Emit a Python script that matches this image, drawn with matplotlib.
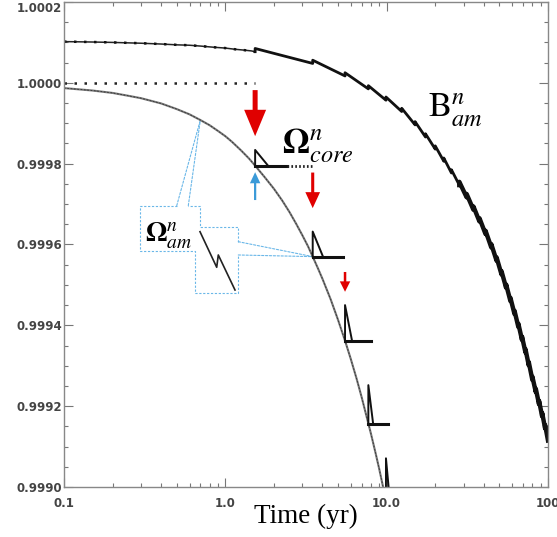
import numpy as np
import matplotlib.pyplot as plt
from matplotlib.ticker import FixedLocator, FixedFormatter, MultipleLocator, LogLocator, NullFormatter
from matplotlib.patches import FancyArrowPatch, ConnectionPatch, ArrowStyle

plt.rcParams['mathtext.fontset'] = 'stix'

# B_am^n before the first glitch
B_early_t = [0.1, 0.15, 0.2, 0.3, 0.4, 0.5, 0.6, 0.7, 0.85, 1.0, 1.15, 1.3, 1.45]
B_early_v = [1.000102, 1.000101, 1.000100, 1.000098, 1.000096, 1.000094, 1.000093,
             1.000091, 1.000088, 1.000086, 1.000083, 1.000081, 1.000079]

# glitch epochs (yr) and B_am^n just before each glitch
glitch_t = [1.53, 3.48, 5.52, 7.70, 9.90, 12.4, 15.0, 17.4, 20.0, 22.6, 25.2, 28.2,
            31.3, 34.5, 37.6, 41.0, 44.5, 48.0, 51.5, 55.0, 58.5, 62.0, 65.5, 69.0,
            72.5, 76.0, 80.0, 84.0, 88.0, 92.0, 96.0]
B_pre = [1.000077, 1.000048, 1.000017, 0.999985, 0.999957, 0.999929, 0.999896, 0.999866,
         0.999836, 0.999806, 0.999777, 0.999747, 0.999717, 0.999686, 0.999657, 0.999626,
         0.999593, 0.999560, 0.999526, 0.999493, 0.999460, 0.999428, 0.999396, 0.999364,
         0.999333, 0.999301, 0.999265, 0.999235, 0.999205, 0.999175, 0.999145]
B_jump = 0.000008
B_end = (100.0, 0.999115)

# Omega_am^n (smooth part)
om_t = [0.10, 0.15, 0.20, 0.25, 0.30, 0.40, 0.50, 0.60, 0.70, 0.80, 0.90, 1.00, 1.10,
        1.25, 1.40, 1.53, 1.75, 2.00, 2.25, 2.50, 2.75, 3.00, 3.25, 3.48, 3.75, 4.00,
        4.50, 5.00, 5.52, 6.00, 6.50, 7.00, 7.70, 8.00, 8.50, 9.00, 9.50, 10.0, 10.5]
om_v = [0.999987, 0.999981, 0.999975, 0.999968, 0.999962, 0.999949, 0.999935, 0.999922,
        0.999908, 0.999895, 0.999881, 0.999868, 0.999854, 0.999833, 0.999813, 0.999795,
        0.999767, 0.999738, 0.999709, 0.999680, 0.999651, 0.999623, 0.999596, 0.999570,
        0.999541, 0.999515, 0.999464, 0.999413, 0.999362, 0.999316, 0.999269, 0.999222,
        0.999157, 0.999131, 0.999087, 0.999044, 0.999000, 0.998957, 0.998914]

# Omega_core^n plateaus after glitches 1-4
core_end_t = [3.48, 5.39, 7.98, 10.2]
core_v = [0.999795, 0.999570, 0.999362, 0.999157]
core_solid_end = 2.41

# Omega_am^n glitch teeth
tooth_base = [0.999795, 0.999570, 0.999362, 0.999157, 0.998960]
tooth_top = [0.999834, 0.999632, 0.999450, 0.999252, 0.999071]
tooth_end_t = [1.84, 4.03, 6.10, 8.24, 10.5]

# arrows (value of tail, value of tip)
red_tail = [0.999982, 0.999778, 0.999532]
red_tip = [0.999868, 0.999690, 0.999483]
blue_tail, blue_tip = 0.999710, 0.999779

yticks = [0.9990, 0.9992, 0.9994, 0.9996, 0.9998, 1.0000, 1.0002]
xticks = [0.1, 1.0, 10.0, 100.0]
xticklabels = ['0.1', '1.0', '10.0', '100']

fig = plt.figure(figsize=(5.57, 5.37), dpi=100)
ax = fig.add_axes([64/557, 50/537, 484/557, 485/537])
ax.set_xscale('log')
ax.set_xlim(0.1, 100)
ax.set_ylim(0.9990, 1.0002)

# B curve with sawtooth
bx, by = list(B_early_t), list(B_early_v)
for t, v in zip(glitch_t, B_pre):
    bx += [t, t]
    by += [v, v + B_jump]
bx.append(B_end[0]); by.append(B_end[1])
n0 = len(B_early_t)
ax.plot(bx[:n0 + 1], by[:n0 + 1], color='#222', lw=1.1)
ax.plot(bx[:n0 + 1], by[:n0 + 1], color='#111', lw=1.8, ls=(0, (1, 3)))
ax.plot(bx[n0:], by[n0:], color='#111', lw=2.0)
k = n0 + 2 * 11
ax.plot(bx[k:], by[k:], color='#111', lw=3.2)

# dotted reference at 1.0000
ax.plot([0.1, glitch_t[0]], [1.0, 1.0], color='#222', lw=1.8, ls=(0, (1, 3)))

# Omega_am curve
ax.plot(om_t, om_v, color='#777', lw=1.5)
ax.plot(om_t, om_v, color='#333', lw=0.6, ls=(0, (2, 2)))

# Omega_core plateaus
ax.plot([glitch_t[0], core_solid_end], [core_v[0]] * 2, color='#111', lw=2.2)
ax.plot([core_solid_end, core_end_t[0]], [core_v[0]] * 2, color='#222', lw=2.0, ls=(0, (0.6, 0.8)))
for t0, t1, v in zip(glitch_t[1:4], core_end_t[1:], core_v[1:]):
    ax.plot([t0, t1], [v, v], color='#111', lw=2.2)

# teeth: jump up, then relax back to the plateau level
for t, b, tp, te in zip(glitch_t[:5], tooth_base, tooth_top, tooth_end_t):
    ax.plot([t, t, te], [b, tp, b], color='#111', lw=1.4)

# arrows
red_sizes = [(15.8, 19.0, 3.6), (10.6, 11.5, 2.2), (7.5, 7.5, 1.8)]
for t, a, b, (hw, hl, tw) in zip(glitch_t[:3], red_tail, red_tip, red_sizes):
    ax.add_patch(FancyArrowPatch((t, a), (t, b), mutation_scale=1, lw=0, color='#e00000',
                                 arrowstyle=ArrowStyle.Simple(head_length=hl, head_width=hw, tail_width=tw),
                                 shrinkA=0, shrinkB=0))
ax.add_patch(FancyArrowPatch((glitch_t[0], blue_tail), (glitch_t[0], blue_tip), mutation_scale=1, lw=0,
                             color='#3b9ad8', arrowstyle=ArrowStyle.Simple(head_length=8, head_width=7.5, tail_width=1.6),
                             shrinkA=0, shrinkB=0))

# callout box
cb = dict(color='#6ab7e8', lw=0.8, ls=(0, (2, 1.5)), transform=ax.transAxes)
ax.plot([0.2329, 0.157, 0.157, 0.2707, 0.2707, 0.3601, 0.3601],
        [0.58, 0.58, 0.4856, 0.4856, 0.399, 0.399, 0.4784], **cb)
ax.plot([0.3601, 0.3601, 0.281, 0.281, 0.2568], [0.5058, 0.5367, 0.5367, 0.58, 0.58], **cb)
for xa, ya, xb, yb in [(0.2329, 0.58, om_t[8], om_v[8]), (0.2568, 0.58, om_t[8], om_v[8]),
                       (0.3601, 0.5058, glitch_t[1], core_v[1]), (0.3601, 0.4784, glitch_t[1], core_v[1])]:
    ax.add_artist(ConnectionPatch((xa, ya), (xb, yb), 'axes fraction', 'data', axesA=ax, axesB=ax,
                                  color='#6ab7e8', lw=0.8, ls=(0, (2, 1.5))))
ax.plot([0.281, 0.3155, 0.3188, 0.3533], [0.5264, 0.453, 0.4784, 0.4062], color='#222', lw=1.2,
        transform=ax.transAxes)

# labels
ax.text(0.4504, 0.6887, r'$\mathbf{\Omega}^{n}_{core}$', transform=ax.transAxes, fontsize=25, va='baseline')
ax.text(0.1674, 0.5052, r'$\mathbf{\Omega}^{n}_{am}$', transform=ax.transAxes, fontsize=20, va='baseline')
ax.text(0.752, 0.7629, r'$\mathrm{B}^{n}_{am}$', transform=ax.transAxes, fontsize=25, va='baseline')

# axes styling
ax.yaxis.set_major_locator(FixedLocator(yticks))
ax.yaxis.set_major_formatter(FixedFormatter(['%.4f' % v for v in yticks]))
ax.yaxis.set_minor_locator(MultipleLocator(0.00005))
ax.xaxis.set_major_locator(FixedLocator(xticks))
ax.xaxis.set_major_formatter(FixedFormatter(xticklabels))
ax.xaxis.set_minor_locator(LogLocator(base=10, subs=np.arange(2, 10)))
ax.xaxis.set_minor_formatter(NullFormatter())
ax.tick_params(which='both', direction='in', top=True, right=True, color='#777', width=0.8)
ax.tick_params(which='major', length=6.5)
ax.tick_params(which='minor', length=3.2)
ax.tick_params(axis='y', pad=1.5)
ax.tick_params(axis='x', pad=7.5)
for lab in ax.get_xticklabels() + ax.get_yticklabels():
    lab.set_fontsize(8.5)
    lab.set_fontweight('bold')
    lab.set_color('#444')
ax.yaxis.get_major_ticks()[-1].label1.set_verticalalignment('top')
for s in ax.spines.values():
    s.set_color('#888')
    s.set_linewidth(1.0)

ax.set_xlabel('Time (yr)', family='Liberation Serif', fontsize=19.5)
ax.xaxis.set_label_coords(0.5, -0.034)

fig.savefig('out.png', dpi=100)
